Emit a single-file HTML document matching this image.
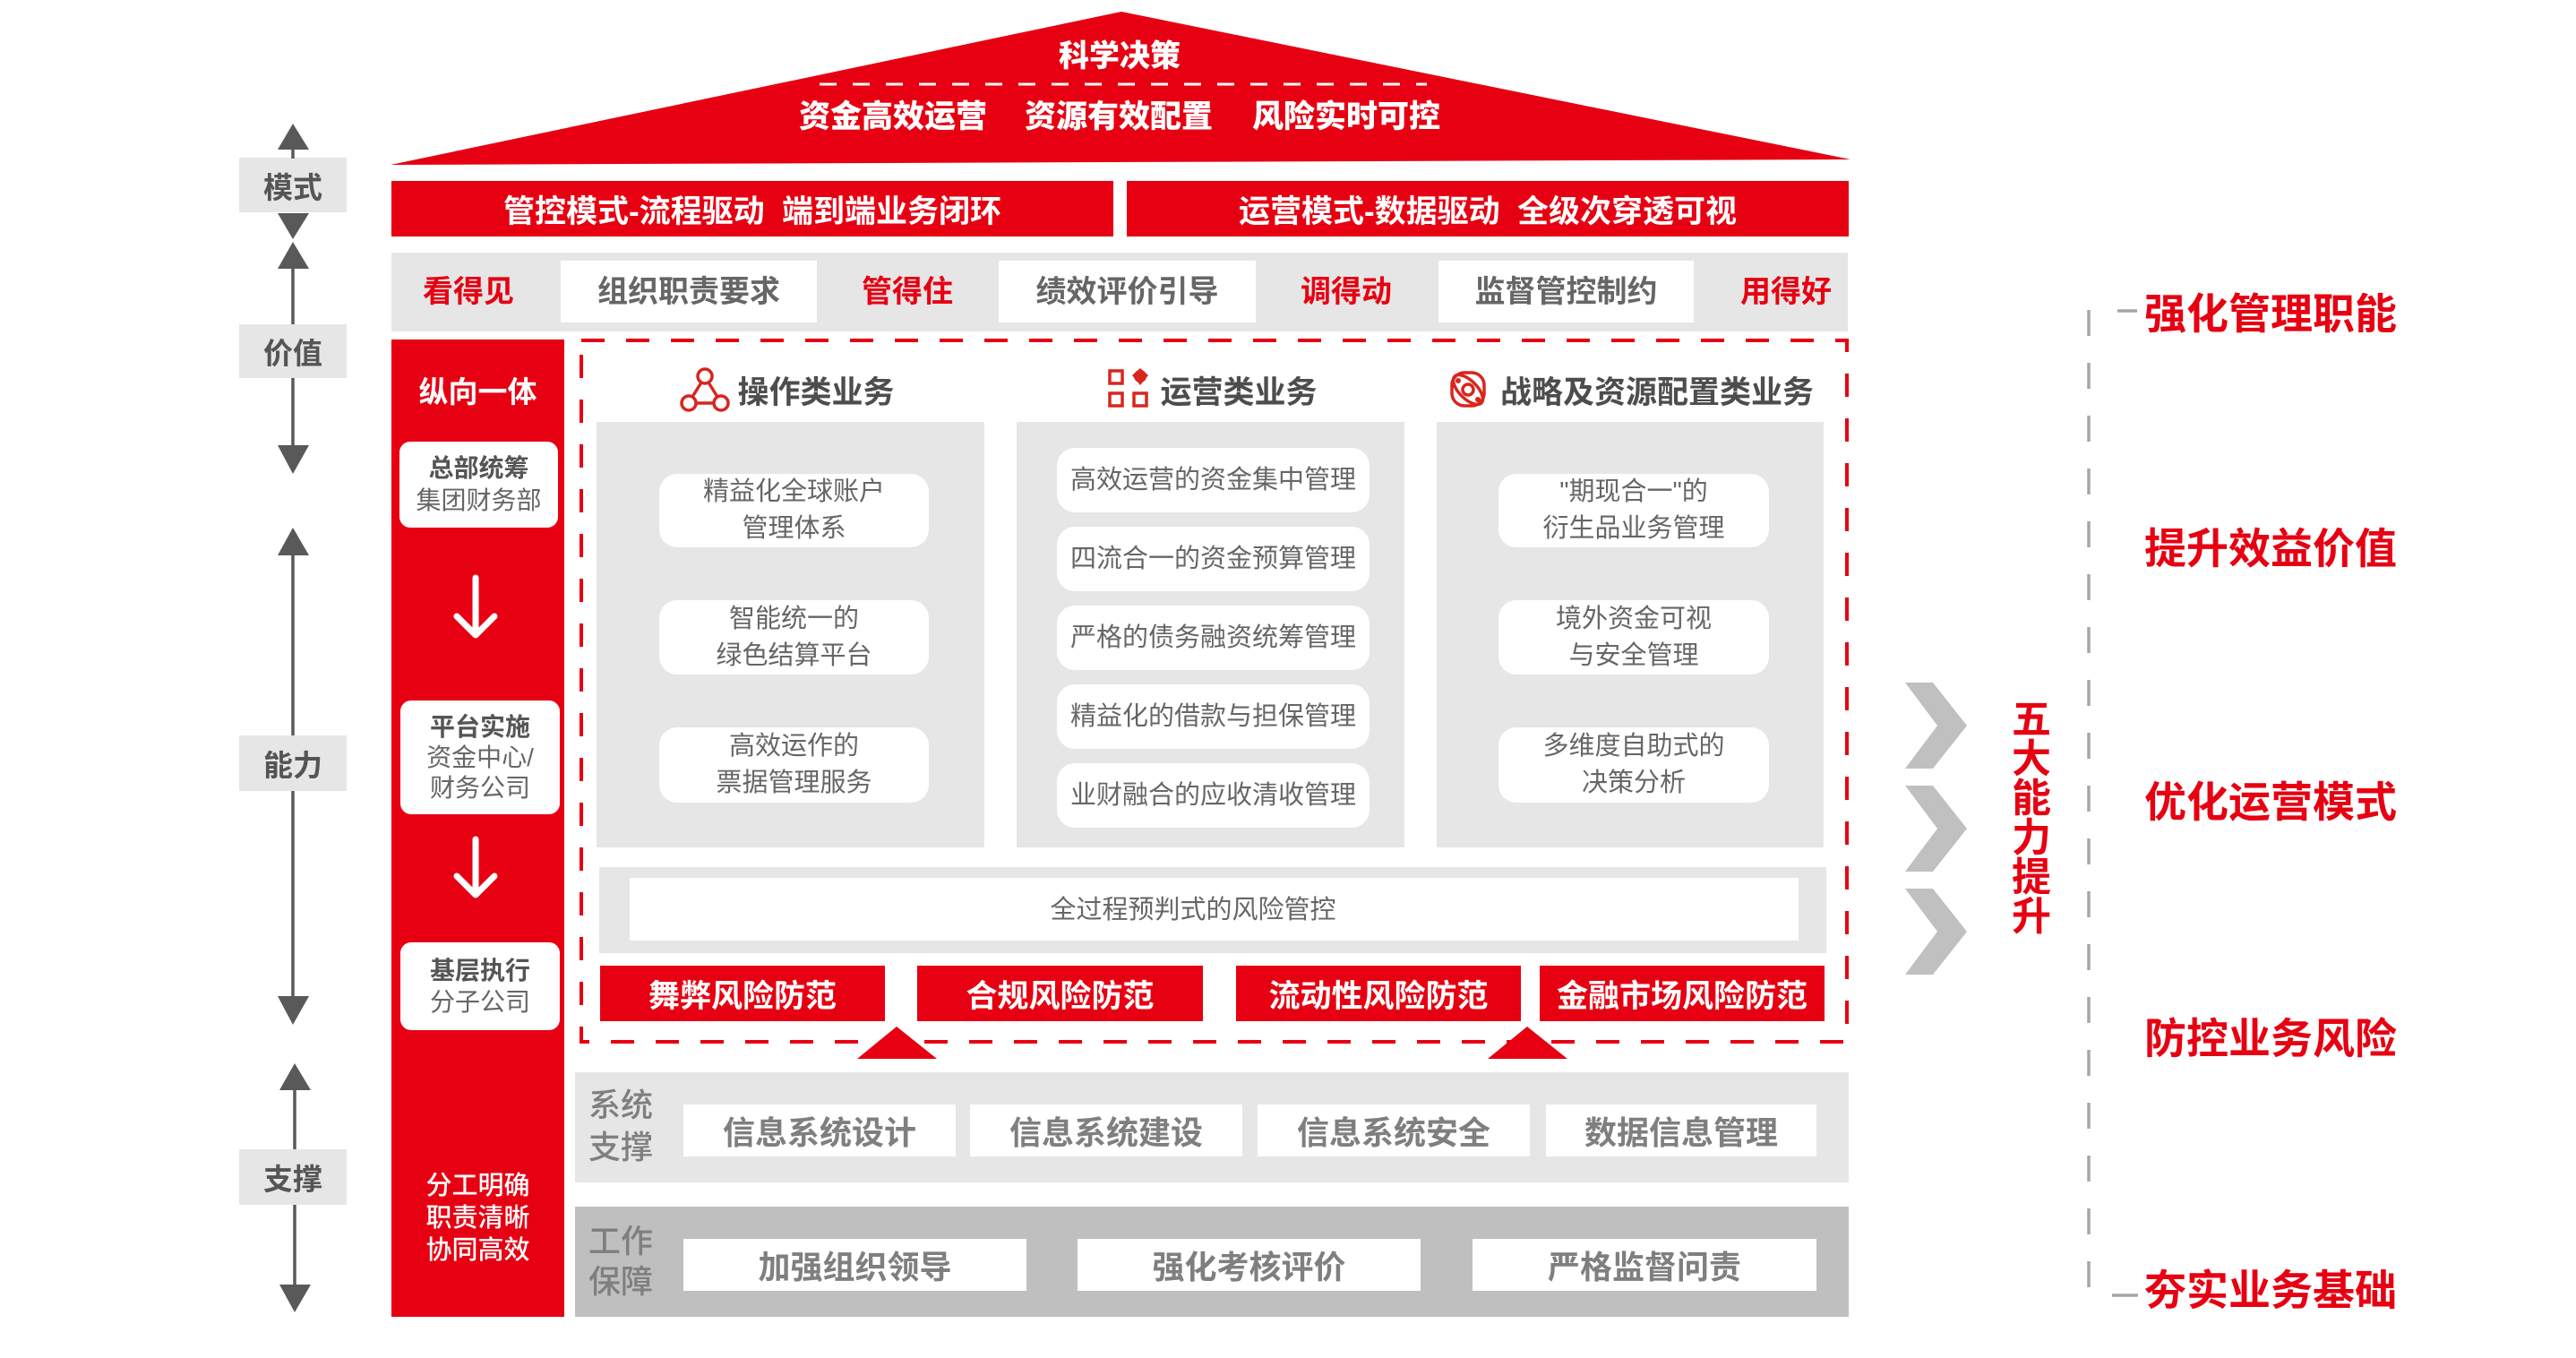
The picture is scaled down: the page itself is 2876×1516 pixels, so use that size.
<!DOCTYPE html>
<html><head><meta charset="utf-8">
<style>
*{margin:0;padding:0;box-sizing:border-box}
html,body{width:2876px;height:1516px;background:#fff;overflow:hidden}
body{position:relative;font-family:"Liberation Sans","Noto Sans CJK SC","WenQuanYi Zen Hei",sans-serif}
.a{position:absolute;display:flex;align-items:center;justify-content:center;text-align:center;white-space:nowrap}
.r{background:#e60012;color:#fff}
.w{background:#fff}
.g{background:#e6e6e6}
.pill{background:#fff;border-radius:20px;color:#666;font-size:29px;line-height:41px;flex-direction:column}
.hd{color:#4d4d4d;font-size:35px;font-weight:700}
.red{color:#e60012}
.vb{padding-bottom:6px}
svg{position:absolute;left:0;top:0}
</style></head><body>

<!-- background blocks -->
<div class="a r" style="left:437px;top:202px;width:806px;height:62px;font-size:35px;font-weight:700">管控模式-流程驱动&nbsp;&nbsp;端到端业务闭环</div>
<div class="a r" style="left:1258px;top:202px;width:806px;height:62px;font-size:35px;font-weight:700">运营模式-数据驱动&nbsp;&nbsp;全级次穿透可视</div>

<div class="a g" style="left:437px;top:282px;width:1626px;height:88px"></div>
<div class="a red vb" style="left:463px;top:291px;width:120px;height:69px;font-size:34px;font-weight:700">看得见</div>
<div class="a w vb" style="left:626px;top:291px;width:286px;height:69px;font-size:34px;font-weight:600;color:#666">组织职责要求</div>
<div class="a red vb" style="left:953px;top:291px;width:120px;height:69px;font-size:34px;font-weight:700">管得住</div>
<div class="a w vb" style="left:1115px;top:291px;width:287px;height:69px;font-size:34px;font-weight:600;color:#666">绩效评价引导</div>
<div class="a red vb" style="left:1443px;top:291px;width:120px;height:69px;font-size:34px;font-weight:700">调得动</div>
<div class="a w vb" style="left:1606px;top:291px;width:285px;height:69px;font-size:34px;font-weight:600;color:#666">监督管控制约</div>
<div class="a red vb" style="left:1934px;top:291px;width:120px;height:69px;font-size:34px;font-weight:700">用得好</div>

<!-- red column -->
<div class="a r" style="left:437px;top:379px;width:193px;height:1091px"></div>
<div class="a" style="left:437px;top:413px;width:193px;height:44px;color:#fff;font-size:33px;font-weight:700">纵向一体</div>
<div class="a w" style="left:446px;top:493px;width:177px;height:96px;border-radius:12px;flex-direction:column;font-size:28px;line-height:36px;color:#666"><b style="color:#555">总部统筹</b><span>集团财务部</span></div>
<div class="a w" style="left:447px;top:782px;width:178px;height:127px;border-radius:12px;flex-direction:column;font-size:28px;line-height:34px;color:#666"><b style="color:#555">平台实施</b><span>资金中心/</span><span>财务公司</span></div>
<div class="a w" style="left:447px;top:1052px;width:178px;height:98px;border-radius:12px;flex-direction:column;font-size:28px;line-height:35px;color:#666"><b style="color:#555">基层执行</b><span>分子公司</span></div>
<div class="a" style="left:437px;top:1305px;width:193px;height:110px;flex-direction:column;color:#fff;font-size:29px;line-height:36px;font-weight:500"><span>分工明确</span><span>职责清晰</span><span>协同高效</span></div>

<!-- three business columns -->
<div class="a g" style="left:666px;top:471px;width:433px;height:475px"></div>
<div class="a g" style="left:1135px;top:471px;width:433px;height:475px"></div>
<div class="a g" style="left:1604px;top:471px;width:432px;height:475px"></div>

<div class="a hd" style="left:821px;top:413px;width:180px;height:44px">操作类业务</div>
<div class="a hd" style="left:1293px;top:413px;width:180px;height:44px">运营类业务</div>
<div class="a hd" style="left:1668px;top:413px;width:364px;height:44px">战略及资源配置类业务</div>

<div class="a pill" style="left:736px;top:529px;width:301px;height:82px"><span>精益化全球账户</span><span>管理体系</span></div>
<div class="a pill" style="left:736px;top:670px;width:301px;height:83px"><span>智能统一的</span><span>绿色结算平台</span></div>
<div class="a pill" style="left:736px;top:812px;width:301px;height:84px"><span>高效运作的</span><span>票据管理服务</span></div>

<div class="a pill" style="left:1180px;top:500px;width:349px;height:72px">高效运营的资金集中管理</div>
<div class="a pill" style="left:1180px;top:588px;width:349px;height:72px">四流合一的资金预算管理</div>
<div class="a pill" style="left:1180px;top:676px;width:349px;height:72px">严格的债务融资统筹管理</div>
<div class="a pill" style="left:1180px;top:764px;width:349px;height:72px">精益化的借款与担保管理</div>
<div class="a pill" style="left:1180px;top:852px;width:349px;height:72px">业财融合的应收清收管理</div>

<div class="a pill" style="left:1673px;top:529px;width:302px;height:82px"><span>"期现合一"的</span><span>衍生品业务管理</span></div>
<div class="a pill" style="left:1673px;top:670px;width:302px;height:83px"><span>境外资金可视</span><span>与安全管理</span></div>
<div class="a pill" style="left:1673px;top:812px;width:302px;height:84px"><span>多维度自助式的</span><span>决策分析</span></div>

<!-- risk -->
<div class="a g" style="left:669px;top:968px;width:1370px;height:96px"></div>
<div class="a w" style="left:703px;top:980px;width:1305px;height:70px"></div>
<div class="a" style="left:1132px;top:978px;width:400px;height:70px;font-size:29px;color:#666">全过程预判式的风险管控</div>
<div class="a r" style="left:670px;top:1078px;width:318px;height:62px;font-size:35px;font-weight:700">舞弊风险防范</div>
<div class="a r" style="left:1024px;top:1078px;width:319px;height:62px;font-size:35px;font-weight:700">合规风险防范</div>
<div class="a r" style="left:1380px;top:1078px;width:318px;height:62px;font-size:35px;font-weight:700">流动性风险防范</div>
<div class="a r" style="left:1719px;top:1078px;width:318px;height:62px;font-size:35px;font-weight:700">金融市场风险防范</div>

<!-- system support -->
<div class="a g" style="left:642px;top:1197px;width:1422px;height:123px"></div>
<div class="a" style="left:655px;top:1209px;width:76px;height:96px;flex-direction:column;font-size:36px;line-height:47px;color:#7f7f7f;font-weight:500"><span>系统</span><span>支撑</span></div>
<div class="a w" style="left:763px;top:1233px;width:304px;height:58px;font-size:36px;font-weight:700;color:#7f7f7f">信息系统设计</div>
<div class="a w" style="left:1083px;top:1233px;width:304px;height:58px;font-size:36px;font-weight:700;color:#7f7f7f">信息系统建设</div>
<div class="a w" style="left:1404px;top:1233px;width:304px;height:58px;font-size:36px;font-weight:700;color:#7f7f7f">信息系统安全</div>
<div class="a w" style="left:1726px;top:1233px;width:302px;height:58px;font-size:36px;font-weight:700;color:#7f7f7f">数据信息管理</div>

<!-- work guarantee -->
<div class="a" style="left:642px;top:1347px;width:1422px;height:123px;background:#bfbfbf"></div>
<div class="a" style="left:655px;top:1362px;width:76px;height:92px;flex-direction:column;font-size:36px;line-height:45px;color:#7f7f7f;font-weight:500"><span>工作</span><span>保障</span></div>
<div class="a w" style="left:763px;top:1383px;width:383px;height:58px;font-size:36px;font-weight:700;color:#7f7f7f">加强组织领导</div>
<div class="a w" style="left:1203px;top:1383px;width:383px;height:58px;font-size:36px;font-weight:700;color:#7f7f7f">强化考核评价</div>
<div class="a w" style="left:1644px;top:1383px;width:384px;height:58px;font-size:36px;font-weight:700;color:#7f7f7f">严格监督问责</div>

<!-- left axis boxes -->
<div class="a g" style="left:267px;top:176px;width:120px;height:61px;font-size:33px;font-weight:700;color:#555">模式</div>
<div class="a g" style="left:267px;top:362px;width:120px;height:60px;font-size:33px;font-weight:700;color:#555">价值</div>
<div class="a g" style="left:267px;top:821px;width:120px;height:62px;font-size:33px;font-weight:700;color:#555">能力</div>
<div class="a g" style="left:267px;top:1283px;width:120px;height:62px;font-size:33px;font-weight:700;color:#555">支撑</div>

<!-- right labels -->
<div class="a red" style="left:2388px;top:320px;width:294px;height:52px;font-size:47px;font-weight:700">强化管理职能</div>
<div class="a red" style="left:2388px;top:582px;width:294px;height:52px;font-size:47px;font-weight:700">提升效益价值</div>
<div class="a red" style="left:2388px;top:865px;width:294px;height:52px;font-size:47px;font-weight:700">优化运营模式</div>
<div class="a red" style="left:2388px;top:1129px;width:294px;height:52px;font-size:47px;font-weight:700">防控业务风险</div>
<div class="a red" style="left:2388px;top:1410px;width:294px;height:52px;font-size:47px;font-weight:700">夯实业务基础</div>
<div class="a red" style="left:2244px;top:780px;width:48px;height:268px;flex-direction:column;font-size:44px;line-height:44px;font-weight:700;white-space:normal"><span>五</span><span>大</span><span>能</span><span>力</span><span>提</span><span>升</span></div>

<svg width="2876" height="1516" viewBox="0 0 2876 1516">
  <!-- roof -->
  <polygon points="436,184 1252,13 2066,178" fill="#e60012"/>
  <line x1="915" y1="94" x2="1593" y2="94" stroke="#fff" stroke-width="3" stroke-dasharray="19 18"/>
  <g font-family="Liberation Sans, Noto Sans CJK SC, sans-serif" font-weight="900" fill="#fff" text-anchor="middle">
    <text x="1250" y="74" font-size="34">科学决策</text>
    <text x="997" y="142" font-size="35">资金高效运营</text>
    <text x="1249" y="142" font-size="35">资源有效配置</text>
    <text x="1503" y="142" font-size="35">风险实时可控</text>
  </g>
  <!-- dashed red box -->
  <rect x="649" y="380" width="1413" height="783" fill="none" stroke="#e60012" stroke-width="4" stroke-dasharray="26 24"/>
  <!-- triangles -->
  <polygon points="1001,1146 957,1182 1046,1182" fill="#e60012"/>
  <polygon points="1705,1146 1661,1182 1750,1182" fill="#e60012"/>
  <!-- white arrows in red column -->
  <g stroke="#fff" stroke-width="7" fill="none" stroke-linecap="round" stroke-linejoin="round">
    <line x1="531" y1="645" x2="531" y2="708"/>
    <polyline points="510,688 531,709 552,688"/>
    <line x1="531" y1="937" x2="531" y2="998"/>
    <polyline points="510,978 531,999 552,978"/>
  </g>
  <!-- left axis -->
  <g fill="#595959" stroke="none">
    <polygon points="327,138 310,167 345,167"/>
    <polygon points="327,267 310,238 345,238"/>
    <polygon points="327,270 310,300 345,300"/>
    <polygon points="327,529 310,497 345,497"/>
    <polygon points="327,589 310,620 345,620"/>
    <polygon points="327,1144 310,1112 345,1112"/>
    <polygon points="329,1187 312,1217 347,1217"/>
    <polygon points="329,1465 312,1434 347,1434"/>
  </g>
  <g stroke="#595959" stroke-width="3.5">
    <line x1="327" y1="166" x2="327" y2="177"/>
    <line x1="327" y1="299" x2="327" y2="362"/>
    <line x1="327" y1="422" x2="327" y2="498"/>
    <line x1="327" y1="619" x2="327" y2="821"/>
    <line x1="327" y1="883" x2="327" y2="1113"/>
    <line x1="329" y1="1216" x2="329" y2="1283"/>
    <line x1="329" y1="1345" x2="329" y2="1435"/>
  </g>
  <!-- right dashed line -->
  <line x1="2332" y1="346" x2="2332" y2="1452" stroke="#a6a6a6" stroke-width="3.5" stroke-dasharray="29 30"/>
  <line x1="2364" y1="347" x2="2386" y2="347" stroke="#a6a6a6" stroke-width="3.5"/>
  <line x1="2358" y1="1446" x2="2387" y2="1446" stroke="#a6a6a6" stroke-width="3.5"/>
  <!-- chevrons -->
  <g fill="#c0c0c0">
    <polygon points="2127,762 2158,762 2196,810 2158,858 2127,858 2163,810"/>
    <polygon points="2127,877 2158,877 2196,925 2158,973 2127,973 2163,925"/>
    <polygon points="2127,992 2158,992 2196,1040 2158,1088 2127,1088 2163,1040"/>
  </g>
  <!-- icons -->
  <g stroke="#d7261e" stroke-width="3.5" fill="none">
    <circle cx="787" cy="420" r="8"/>
    <circle cx="769" cy="450" r="8"/>
    <circle cx="805" cy="450" r="8"/>
    <line x1="783" y1="427" x2="773" y2="443"/>
    <line x1="791" y1="427" x2="801" y2="443"/>
    <line x1="777" y1="450" x2="797" y2="450"/>
    <rect x="1239" y="414" width="14" height="14"/>
    <rect x="1239" y="439" width="14" height="14"/>
    <rect x="1266" y="439" width="14" height="14"/>
    <rect x="1621" y="416" width="36" height="37" rx="14"/>
    <circle cx="1639" cy="435" r="6"/>
    <ellipse cx="1639" cy="435" rx="21" ry="10" transform="rotate(45 1639 435)"/>
  </g>
  <g fill="#d7261e">
    <polygon points="1273,411 1282,419 1273,430 1264,419"/>
    <circle cx="1273" cy="420" r="7"/>
    <circle cx="1628" cy="425" r="3"/>
    <circle cx="1650" cy="446" r="3"/>
  </g>
</svg>
</body></html>
